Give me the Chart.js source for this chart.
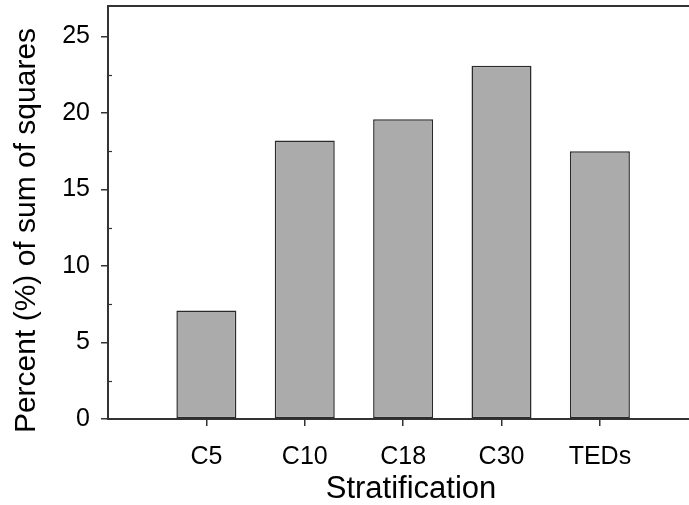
<!DOCTYPE html>
<html>
<head>
<meta charset="utf-8">
<script src="https://cdn.jsdelivr.net/npm/chart.js@4.4.1/dist/chart.umd.min.js"></script>
<style>
  html, body { margin: 0; padding: 0; background: #fff; }
  #frame { width: 689px; height: 505px; overflow: hidden; position: relative; }
  #box { width: 714px; height: 505px; position: absolute; left: 0; top: 0; }
</style>
</head>
<body>
<div id="frame"><div id="box"><canvas id="chart"></canvas></div></div>
<script>
// data
const categories = ['C5', 'C10', 'C18', 'C30', 'TEDs'];
const percentSS = [7.1, 18.2, 19.6, 23.1, 17.5];
const yTicks = [0, 5, 10, 15, 20, 25];
const yMinorTicks = [2.5, 7.5, 12.5, 17.5, 22.5];
const yMax = 27;
const yTitle = 'Percent (%) of sum of squares';

const axisColor = '#333';
const textColor = '#000';
const textFont = "'Liberation Sans', Arial, sans-serif";

// top frame line, inner minor ticks and the y title (sits a bit low in the original)
const frameLines = {
  id: 'frameLines',
  afterDraw(chart) {
    const ctx = chart.ctx;
    const area = chart.chartArea;
    const y = chart.scales.y;
    ctx.save();
    ctx.strokeStyle = axisColor;
    ctx.lineWidth = 2;
    ctx.beginPath();
    ctx.moveTo(area.left - 1, area.top);
    ctx.lineTo(area.right, area.top);
    ctx.stroke();
    ctx.lineWidth = 1.2;
    yMinorTicks.forEach(v => {
      const py = Math.round(y.getPixelForValue(v)) + 0.5;
      ctx.beginPath();
      ctx.moveTo(area.left, py);
      ctx.lineTo(area.left + 4, py);
      ctx.stroke();
    });
    ctx.translate(35, (area.top + area.bottom) / 2 + 18);
    ctx.rotate(-Math.PI / 2);
    ctx.fillStyle = textColor;
    ctx.font = '30px ' + textFont;
    ctx.textAlign = 'center';
    ctx.textBaseline = 'alphabetic';
    ctx.fillText(yTitle, 0, 0);
    ctx.restore();
  }
};

new Chart(document.getElementById('chart'), {
  type: 'bar',
  data: {
    datasets: [{
      data: categories.map((c, i) => ({ x: i + 1, y: percentSS[i] })),
      backgroundColor: '#ababab',
      borderColor: '#2a2a2a',
      borderWidth: 1.5,
      borderSkipped: false,
      barPercentage: 0.61,
      categoryPercentage: 1
    }]
  },
  options: {
    responsive: true,
    maintainAspectRatio: false,
    animation: false,
    layout: { padding: { top: 6, left: 0, right: 0, bottom: 0 } },
    plugins: { legend: { display: false }, tooltip: { enabled: false } },
    scales: {
      x: {
        type: 'linear',
        offset: false,
        min: 0,
        max: 6.16,
        afterBuildTicks: s => { s.ticks = categories.map((c, i) => ({ value: i + 1 })); },
        afterFit: s => { s.height = 86; s.paddingLeft = 0; s.paddingRight = 0; },
        ticks: {
          callback: v => categories[v - 1],
          color: textColor,
          font: { family: textFont, size: 25 },
          padding: 16,
          maxRotation: 0
        },
        grid: { offset: false, drawOnChartArea: false, drawTicks: true, tickLength: 7, color: axisColor, lineWidth: 1.5 },
        border: { display: true, color: axisColor, width: 2 },
        title: {
          display: true,
          text: 'Stratification',
          color: textColor,
          font: { family: textFont, size: 31, lineHeight: 1 },
          padding: { top: 0, bottom: 0 }
        }
      },
      y: {
        min: 0,
        max: yMax,
        afterBuildTicks: s => { s.ticks = yTicks.map(v => ({ value: v })); },
        afterFit: s => { s.width = 108; s.paddingTop = 0; s.paddingBottom = 0; },
        ticks: {
          color: textColor,
          font: { family: textFont, size: 25 },
          padding: 11
        },
        grid: { drawOnChartArea: false, drawTicks: true, tickLength: 7, color: axisColor, lineWidth: 1.5 },
        border: { display: true, color: axisColor, width: 2 }
      }
    }
  },
  plugins: [frameLines]
});
</script>
</body>
</html>
